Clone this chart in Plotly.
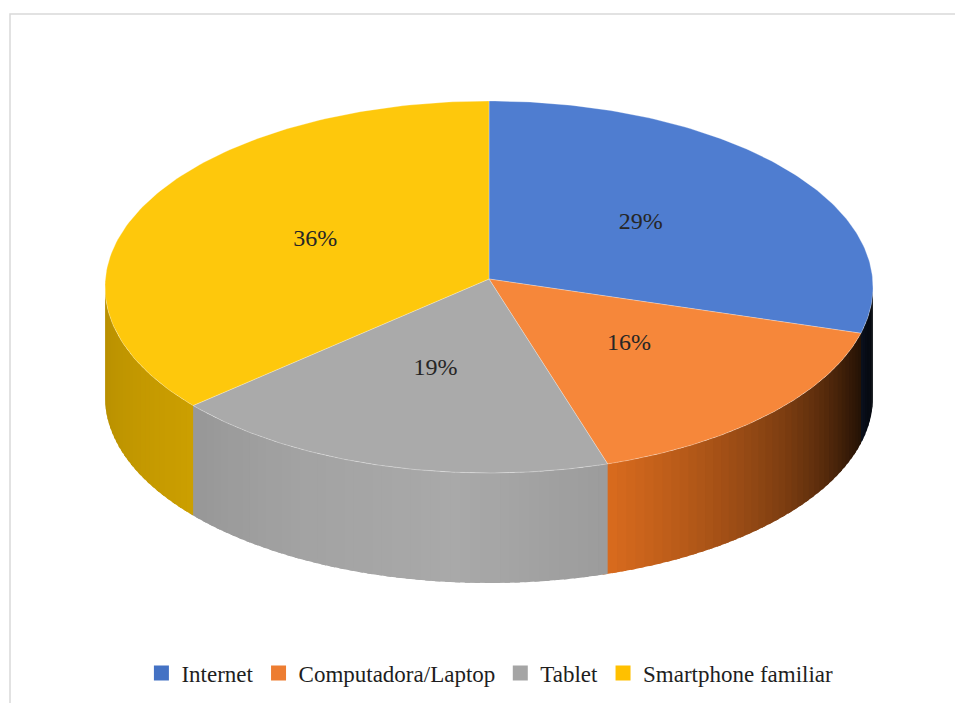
import numpy as np
import plotly.graph_objects as go

# Shares of household devices / connectivity (percent)
categories = ["Internet", "Computadora/Laptop", "Tablet", "Smartphone familiar"]
shares = [29, 16, 19, 36]

# Colours: top faces, side walls and legend swatches
top_colors = ["#4f7dd0", "#f6873a", "#aaaaaa", "#fec80c"]
side_colors = ["#4472c4", "#ec7420", "#a9a9a9", "#e4b200"]
legend_colors = ["#4472c4", "#ed7d31", "#a5a5a5", "#ffc000"]

# Geometry of the tilted disc (in page pixels)
W, H = 955, 703
CX, CY = 489.0, 287.0
RX, RY = 384.0, 186.0
DEPTH = 110.0
APEX_SHIFT = -8.0  # slight perspective lift of the hub

# Light falloff around the visible rim (angle clockwise from top, degrees)
shade_ang = [90, 100, 110, 120, 130, 140, 150, 162, 185, 210, 235, 270]
shade_val = [0.05, 0.10, 0.22, 0.38, 0.53, 0.66, 0.78, 0.92, 1.0, 0.96, 0.88, 0.80]


def rim(theta_deg):
    t = np.radians(theta_deg)
    return CX + RX * np.sin(t), CY - RY * np.cos(t)


def scale_hex(hexcol, f):
    h = hexcol.lstrip("#")
    r, g, b = (int(h[i:i + 2], 16) for i in (0, 2, 4))
    r, g, b = (max(0, min(255, int(round(c * f)))) for c in (r, g, b))
    return f"rgb({r},{g},{b})"


total = float(sum(shares))
bounds = np.concatenate([[0.0], np.cumsum(shares) / total * 360.0])

fig = go.Figure()

# Side walls: overlapping vertical strips along the front half of the rim,
# each one slightly longer so the next strip hides the seam
for i, name in enumerate(categories):
    a0, a1 = max(bounds[i], 90.0), min(bounds[i + 1], 270.0)
    if a1 <= a0:
        continue
    n = max(2, int(np.ceil((a1 - a0) / 1.5)))
    edges = np.linspace(a0, a1, n + 1)
    for a, b in zip(edges[:-1], edges[1:]):
        b_ext = min(b + 0.8, 270.0)
        arc = np.linspace(a, b_ext, 4)
        xs, ys = rim(arc)
        f = float(np.interp((a + b) / 2, shade_ang, shade_val))
        col = scale_hex(side_colors[i], f)
        fig.add_trace(go.Scatter(
            x=np.concatenate([xs, xs[::-1], xs[:1]]),
            y=np.concatenate([ys, ys[::-1] + DEPTH, ys[:1]]),
            mode="lines", fill="toself", fillcolor=col,
            line=dict(width=0),
            hoverinfo="skip", showlegend=False,
        ))

# Top faces
apex_x, apex_y = CX, CY + APEX_SHIFT
for i, name in enumerate(categories):
    th = np.linspace(bounds[i], bounds[i + 1], 120)
    xs, ys = rim(th)
    fig.add_trace(go.Scatter(
        x=np.concatenate([[apex_x], xs, [apex_x]]),
        y=np.concatenate([[apex_y], ys, [apex_y]]),
        mode="lines", fill="toself", fillcolor=top_colors[i],
        line=dict(color="rgba(255,255,255,0.35)", width=0.8),
        hoverinfo="skip", showlegend=False,
    ))

# Percentage labels halfway between hub and rim
mids = (bounds[:-1] + bounds[1:]) / 2
mx, my = rim(mids)
lx = apex_x + 0.5 * (mx - apex_x)
ly = apex_y + 0.5 * (my - apex_y) - 3
fig.add_trace(go.Scatter(
    x=lx, y=ly, mode="text",
    text=[f"{v / total * 100:.0f}%" for v in shares],
    textfont=dict(family="Liberation Serif", size=24, color="#262626"),
    hoverinfo="skip", showlegend=False,
))

# Legend swatches
for name, col in zip(categories, legend_colors):
    fig.add_trace(go.Scatter(
        x=[None], y=[None], mode="markers", name=name,
        marker=dict(symbol="square", size=15, color=col),
    ))

fig.update_layout(
    width=W, height=H,
    margin=dict(l=0, r=0, t=0, b=0),
    paper_bgcolor="white", plot_bgcolor="white",
    xaxis=dict(range=[0, W], visible=False, fixedrange=True),
    yaxis=dict(range=[H, 0], visible=False, fixedrange=True),
    showlegend=True,
    legend=dict(
        orientation="h", x=0.513, xanchor="center", y=1 - 673 / H, yanchor="middle",
        font=dict(family="Liberation Serif", size=23, color="#1e1e1e"),
        itemwidth=30, itemclick=False, itemdoubleclick=False,
        tracegroupgap=0,
    ),
    shapes=[dict(
        type="rect", xref="paper", yref="paper",
        x0=10 / W, x1=1.02, y0=-0.02, y1=1 - 14 / H,
        line=dict(color="#d9d9d9", width=1.5), fillcolor="rgba(0,0,0,0)",
        layer="below",
    )],
)

fig.write_html("out.html")
